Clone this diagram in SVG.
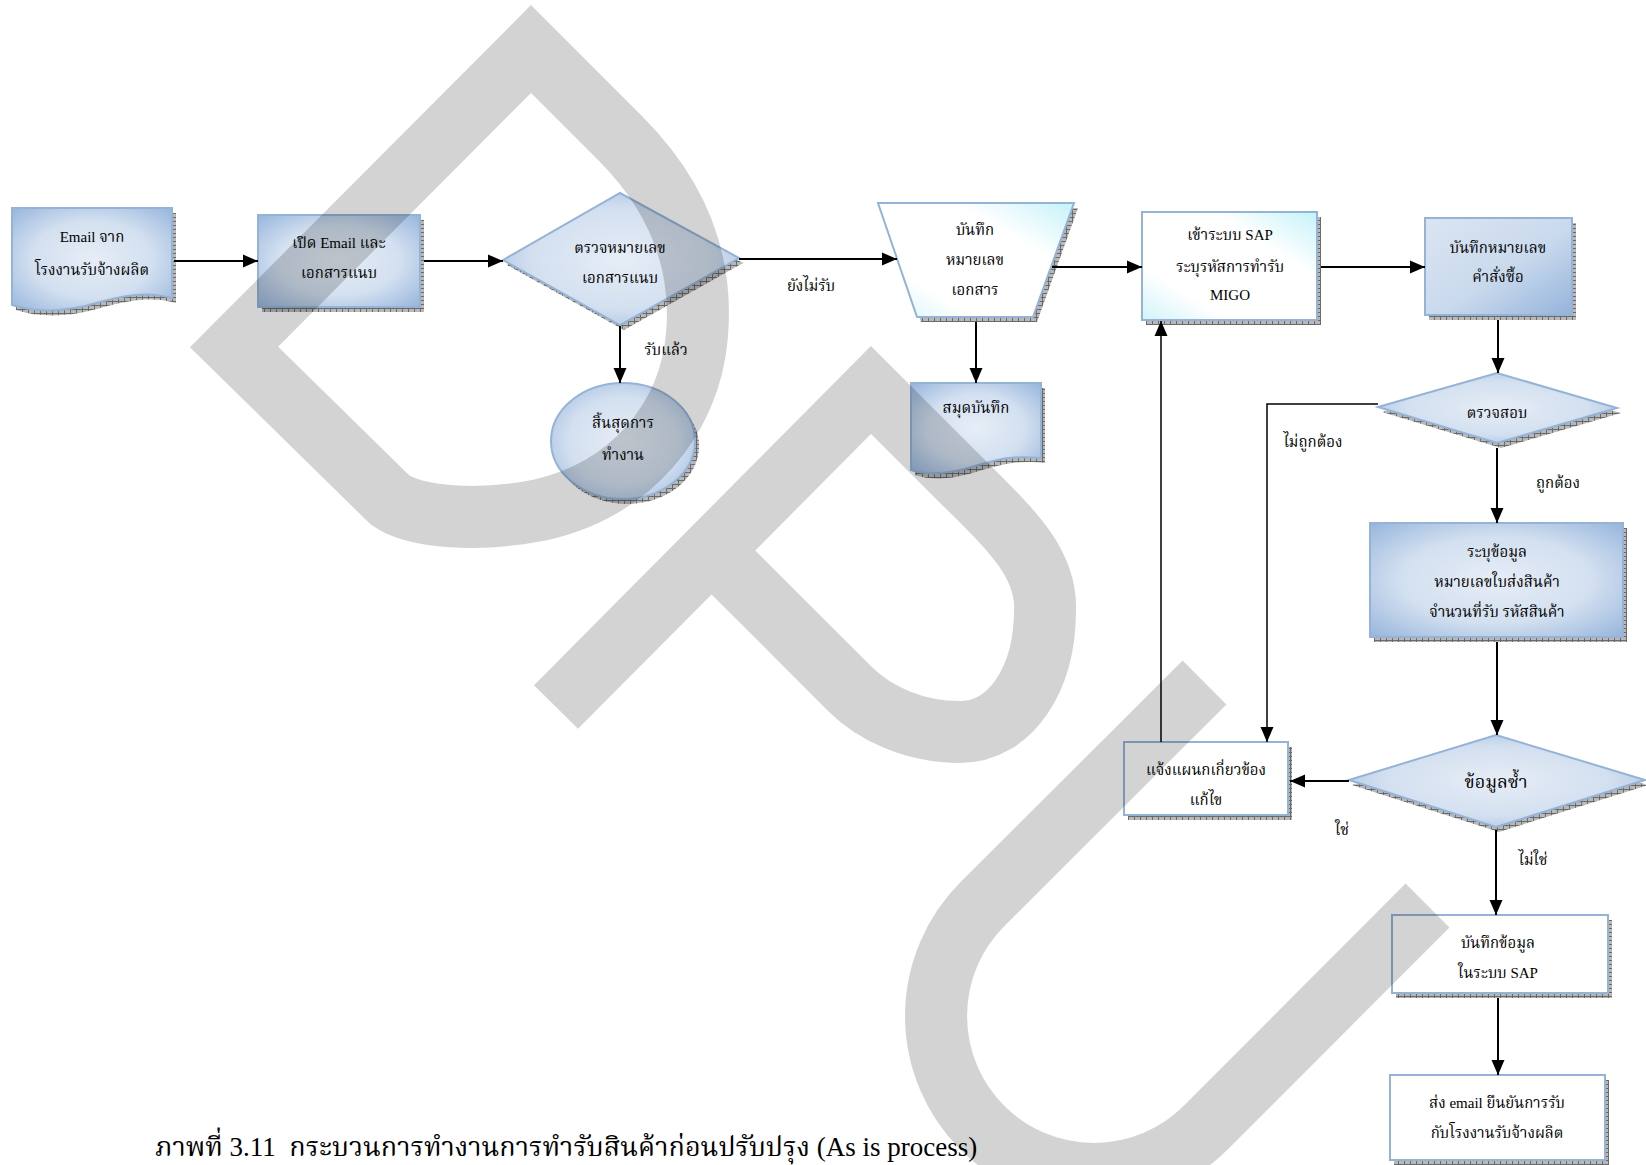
<svg xmlns="http://www.w3.org/2000/svg" width="1646" height="1165" viewBox="0 0 1646 1165">
<style>
.t{font-family:"Liberation Serif","Noto Serif Thai","Noto Sans Thai","Tlwg Typo","Garuda",serif;font-size:15px;text-anchor:middle;fill:#000}
.lbl{font-family:"Liberation Serif","Noto Serif Thai","Noto Sans Thai","Tlwg Typo","Garuda",serif;font-size:15px;text-anchor:middle;fill:#000}
.cap{font-family:"Liberation Serif","Noto Serif Thai","Noto Sans Thai","Tlwg Typo","Garuda",serif;font-size:27px;fill:#000;white-space:pre}
.nb{stroke:#95b3d7;stroke-width:2}
.sh{fill:url(#hatch);stroke:none}
.c{fill:none;stroke:#000;stroke-width:2}
.c2{fill:none;stroke:#000;stroke-width:1.5}
</style>
<defs>
<radialGradient id="gB" cx="0.5" cy="0.5" r="0.75">
<stop offset="0" stop-color="#e6edf6"/>
<stop offset="0.5" stop-color="#d3e0f0"/>
<stop offset="1" stop-color="#8eafd9"/>
</radialGradient>
<linearGradient id="gB2" x1="0" y1="0" x2="1" y2="1">
<stop offset="0" stop-color="#dbe5f2"/>
<stop offset="0.55" stop-color="#c9d9ed"/>
<stop offset="1" stop-color="#94b3da"/>
</linearGradient>
<linearGradient id="gW" x1="1" y1="0" x2="0" y2="1">
<stop offset="0" stop-color="#c5f2fa"/>
<stop offset="0.3" stop-color="#ffffff"/>
<stop offset="0.75" stop-color="#ffffff"/>
<stop offset="1" stop-color="#d2f3f9"/>
</linearGradient>
<pattern id="hatch" width="6" height="4" patternUnits="userSpaceOnUse">
<rect width="6" height="4" fill="#b8b8b8"/>
<path d="M0 0.5H6M0.5 0V4" stroke="#6a6a6a" stroke-width="1"/>
</pattern>
<marker id="ah" markerWidth="15" markerHeight="14" refX="15" refY="7" orient="auto" markerUnits="userSpaceOnUse">
<path d="M0,0.5 L15,7 L0,13.5 Z" fill="#000"/>
</marker>
</defs>
<rect width="1646" height="1165" fill="#fff"/>

<g id="n1">
<path class="sh" transform="translate(4,5)" d="M12,208 H172 V298 C150,292 130,294 100,302 C70,311 40,314 12,305 Z"/>
<path class="nb" fill="url(#gB)" d="M12,208 H172 V298 C150,292 130,294 100,302 C70,311 40,314 12,305 Z"/>
<text class="t" x="92" y="242">Email จาก</text>
<text class="t" x="92" y="275">โรงงานรับจ้างผลิต</text>
</g>

<g id="n2">
<rect class="sh" x="262" y="220" width="162" height="92"/>
<rect class="nb" fill="url(#gB)" x="258" y="215" width="162" height="92"/>
<text class="t" x="339" y="248">เปิด Email และ</text>
<text class="t" x="339" y="278">เอกสารแนบ</text>
</g>

<g id="n3">
<polygon class="sh" transform="translate(4,5)" points="503,260 620,193 739,258 620,325"/>
<polygon class="nb" fill="url(#gB)" points="503,260 620,193 739,258 620,325"/>
<text class="t" x="620" y="253">ตรวจหมายเลข</text>
<text class="t" x="620" y="283">เอกสารแนบ</text>
</g>

<g id="n4">
<ellipse class="sh" cx="627" cy="446" rx="72" ry="58"/>
<ellipse class="nb" fill="url(#gB)" cx="623" cy="441" rx="72" ry="58"/>
<text class="t" x="623" y="428">สิ้นสุดการ</text>
<text class="t" x="623" y="460">ทำงาน</text>
</g>

<g id="n5">
<polygon class="sh" transform="translate(4,5)" points="878,203 1074,203 1033,317 917,317"/>
<polygon class="nb" fill="url(#gW)" points="878,203 1074,203 1033,317 917,317"/>
<text class="t" x="975" y="235">บันทึก</text>
<text class="t" x="975" y="265">หมายเลข</text>
<text class="t" x="975" y="295">เอกสาร</text>
</g>

<g id="n6">
<path class="sh" transform="translate(4,5)" d="M911,383 H1041 V458 C1010,455 995,460 975,466 C950,474 930,476 911,470 Z"/>
<path class="nb" fill="url(#gB)" d="M911,383 H1041 V458 C1010,455 995,460 975,466 C950,474 930,476 911,470 Z"/>
<text class="t" x="976" y="413">สมุดบันทึก</text>
</g>

<g id="n7">
<rect class="sh" x="1146" y="217" width="175" height="108"/>
<rect class="nb" fill="url(#gW)" x="1142" y="212" width="175" height="108"/>
<text class="t" x="1230" y="240">เข้าระบบ SAP</text>
<text class="t" x="1230" y="272">ระบุรหัสการทำรับ</text>
<text class="t" x="1230" y="300">MIGO</text>
</g>

<g id="n8">
<rect class="sh" x="1429" y="223" width="147" height="97"/>
<rect class="nb" fill="url(#gB2)" x="1425" y="218" width="147" height="97"/>
<text class="t" x="1498" y="253">บันทึกหมายเลข</text>
<text class="t" x="1498" y="282">คำสั่งซื้อ</text>
</g>

<g id="n9">
<polygon class="sh" transform="translate(4,5)" points="1378,407 1497,373 1617,408 1497,443"/>
<polygon class="nb" fill="url(#gB)" points="1378,407 1497,373 1617,408 1497,443"/>
<text class="t" x="1497" y="418">ตรวจสอบ</text>
</g>

<g id="n10">
<rect class="sh" x="1374" y="528" width="253" height="114"/>
<rect class="nb" fill="url(#gB)" x="1370" y="523" width="253" height="114"/>
<text class="t" x="1497" y="557">ระบุข้อมูล</text>
<text class="t" x="1497" y="587">หมายเลขใบส่งสินค้า</text>
<text class="t" x="1497" y="617">จำนวนที่รับ  รหัสสินค้า</text>
</g>

<g id="n11">
<polygon class="sh" transform="translate(3,5)" points="1349,780 1496,735 1645,780 1496,827"/>
<polygon class="nb" fill="url(#gB)" points="1349,780 1496,735 1645,780 1496,827"/>
<text class="t" x="1496" y="788" style="font-size:18px">ข้อมูลซ้ำ</text>
</g>

<g id="n12">
<rect class="sh" x="1128" y="747" width="164" height="73"/>
<rect class="nb" fill="#fff" x="1124" y="742" width="164" height="73"/>
<text class="t" x="1206" y="775">แจ้งแผนกเกี่ยวข้อง</text>
<text class="t" x="1206" y="805">แก้ไข</text>
</g>

<g id="n13">
<rect class="sh" x="1396" y="920" width="216" height="78"/>
<rect class="nb" fill="#fff" x="1392" y="915" width="216" height="78"/>
<text class="t" x="1498" y="948">บันทึกข้อมูล</text>
<text class="t" x="1498" y="978">ในระบบ SAP</text>
</g>

<g id="n14">
<rect class="sh" x="1394" y="1080" width="215" height="85"/>
<rect class="nb" fill="#fff" x="1390" y="1075" width="215" height="85"/>
<text class="t" x="1497" y="1108">ส่ง email ยืนยันการรับ</text>
<text class="t" x="1497" y="1138">กับโรงงานรับจ้างผลิต</text>
</g>

<g id="connectors">
<path class="c" d="M174,261 H258" marker-end="url(#ah)"/>
<path class="c" d="M424,261 H503" marker-end="url(#ah)"/>
<path class="c" d="M739,259 H897" marker-end="url(#ah)"/>
<path class="c" d="M620,326 V383" marker-end="url(#ah)"/>
<path class="c" d="M976,322 V383" marker-end="url(#ah)"/>
<path class="c" d="M1052,267 H1142" marker-end="url(#ah)"/>
<path class="c" d="M1321,267 H1425" marker-end="url(#ah)"/>
<path class="c" d="M1498,320 V373" marker-end="url(#ah)"/>
<path class="c2" d="M1378,404 H1267 V742" marker-end="url(#ah)"/>
<path class="c" d="M1497,448 V523" marker-end="url(#ah)"/>
<path class="c" d="M1497,642 V735" marker-end="url(#ah)"/>
<path class="c" d="M1349,781 H1290" marker-end="url(#ah)"/>
<path class="c2" d="M1161,742 V321" marker-end="url(#ah)"/>
<path class="c" d="M1496,830 V915" marker-end="url(#ah)"/>
<path class="c" d="M1498,998 V1075" marker-end="url(#ah)"/>
<text class="lbl" x="811" y="291">ยังไม่รับ</text>
<text class="lbl" x="666" y="355">รับแล้ว</text>
<text class="lbl" x="1313" y="447">ไม่ถูกต้อง</text>
<text class="lbl" x="1558" y="488">ถูกต้อง</text>
<text class="lbl" x="1342" y="835">ใช่</text>
<text class="lbl" x="1533" y="865">ไม่ใช่</text>
</g>

<text class="cap" x="155" y="1156">ภาพที่ 3.11  กระบวนการทำงานการทำรับสินค้าก่อนปรับปรุง (As is process)</text>

<g id="watermark" opacity="0.17" fill="none" stroke="#000" stroke-width="62" stroke-linejoin="miter" stroke-linecap="butt" stroke-miterlimit="10">
<path d="M234,347 L531,49 L620,138 C680,198 703,265 697,335 C690,420 630,490 540,510 C480,522 415,518 390,500 Z"/>
<path d="M556,707 L871,390 L955,474 C1005,524 1047,560 1045,610 C1045,680 1010,732 960,732 C915,732 875,714 850,689 L712,551"/>
<path d="M1204.5,682.5 L982.3,904.3 A158,158 0 0 0 982.3,1127.7 A158,158 0 0 0 1205.7,1127.7 L1427.5,905.5"/>
</g>
</svg>
